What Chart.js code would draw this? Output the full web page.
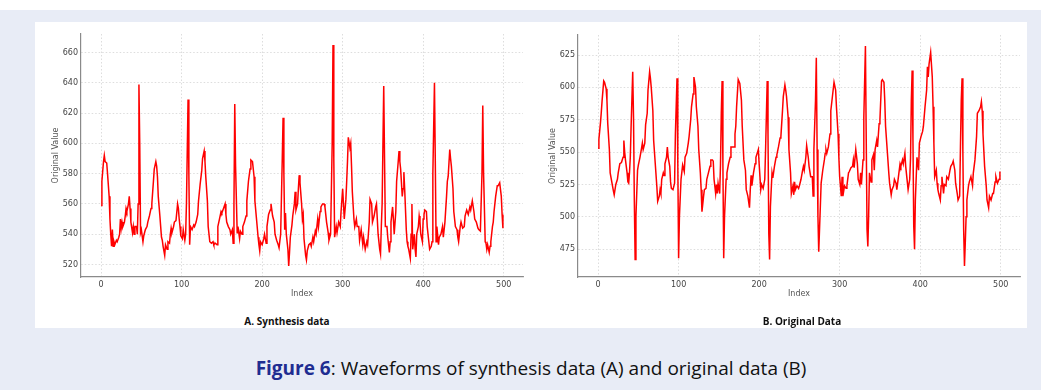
<!DOCTYPE html>
<html>
<head>
<meta charset="utf-8">
<script src="https://cdn.jsdelivr.net/npm/chart.js@4"></script>
<style>
  body { margin: 0; width: 1041px; height: 390px; background: #fff; position: relative; overflow: hidden; font-family: 'Open Sans', sans-serif; }
  #band { position: absolute; left: 0; top: 10px; width: 1041px; height: 380px; background: #e8ecf6; }
  #panel { position: absolute; left: 35px; top: 22px; width: 992px; height: 306px; background: #fff; }
  .box { position: absolute; top: 22px; width: 500px; height: 290px; }
  .sub { position: absolute; top: 314px; width: 300px; text-align: center; font-size: 10px; font-weight: 700; line-height: 14px; color: #111; }
  #caption { position: absolute; left: 35px; top: 356px; width: 992px; text-align: center; font-size: 19px; line-height: 24px; color: #111; }
  #caption b { color: #1f2d91; }
</style>
</head>
<body>
<div id="band"></div>
<div id="panel"></div>
<div class="box" style="left:35px"><canvas id="chartA"></canvas></div>
<div class="box" style="left:532px"><canvas id="chartB"></canvas></div>
<div class="sub" style="left:137px">A. Synthesis data</div>
<div class="sub" style="left:652px">B. Original Data</div>
<div id="caption"><b>Figure 6</b>: Waveforms of synthesis data (A) and original data (B)</div>

<script>
// tick labels
const xTicks = [0, 100, 200, 300, 400, 500];
const yTicksA = [520, 540, 560, 580, 600, 620, 640, 660];
const yTicksB = [475, 500, 525, 550, 575, 600, 625];

// A. synthesis data (index, value)
const idxA = [
  0,1,3,4,5,7,8,10,11,12,13,14,15,16,17,19,20,22,23,24,
  25,26,27,29,30,31,32,34,35,36,37,39,40,41,42,44,45,46,47,48,
  49,50,52,53,55,57,58,60,62,63,65,66,68,69,70,71,73,74,75,76,
  77,79,80,82,83,85,86,87,88,90,91,93,95,96,97,98,99,101,102,104,
  105,106,108,109,110,111,113,115,116,118,120,121,123,125,126,128,129,130,132,133,
  135,137,139,140,142,144,145,147,149,150,152,154,155,156,158,160,161,163,164,165,
  166,167,169,170,172,173,175,176,178,180,181,183,185,186,188,190,191,193,195,196,
  197,198,200,202,203,205,206,208,210,211,213,215,216,218,220,221,223,225,226,227,
  228,229,230,232,233,234,235,237,238,240,241,242,244,245,246,247,249,250,251,252,
  254,255,256,258,260,261,263,264,266,267,269,270,272,273,275,277,278,280,282,283,
  285,287,288,289,290,292,293,295,297,298,300,301,302,304,305,306,307,309,310,311,
  312,314,315,317,318,320,321,323,325,326,328,330,331,333,334,336,337,339,341,342,
  343,344,346,347,348,349,351,352,353,355,356,358,359,360,362,363,364,366,367,369,
  370,371,372,374,375,376,377,379,380,381,382,384,385,386,387,389,390,391,392,394,
  395,396,397,399,400,401,402,404,405,407,408,410,411,412,414,415,416,417,419,420,
  422,424,425,427,429,430,431,433,434,435,437,438,440,442,443,444,446,447,449,451,
  452,454,456,458,459,461,463,464,466,468,469,471,473,474,475,477,478,479,480,482,
  483,484,486,487,488,490,492,493,495,497,498,499
];
const valA = [
  559,575,588,592,588,587,580,565,550,540,532,543,532,535,533,536,535,538,540,550,
  544,548,545,548,552,557,555,560,565,557,548,541,545,540,545,545,540,560,639,600,
  541,543,535,539,543,545,548,552,557,560,575,583,588,585,578,565,552,545,538,536,
  532,526,533,530,535,534,540,544,541,545,548,549,560,557,550,545,539,537,543,536,
  540,560,629,580,533,545,543,546,545,548,553,562,573,582,590,595,588,578,562,545,
  535,534,535,533,534,533,545,550,555,554,557,560,553,548,545,543,540,543,534,560,
  626,585,541,545,537,542,540,545,548,552,562,575,583,589,588,578,562,550,538,533,
  529,535,533,537,540,534,545,553,556,560,552,548,540,536,533,531,540,590,617,580,
  543,554,540,530,519,528,538,546,552,560,568,556,560,570,579,574,560,550,553,537,
  526,523,529,533,534,532,538,535,542,540,550,545,555,558,560,560,558,548,541,536,
  540,600,665,590,538,545,541,548,545,555,570,560,550,563,575,588,604,597,600,585,
  568,550,545,550,545,545,536,543,533,538,530,535,533,548,563,560,548,552,558,560,
  550,540,530,527,545,560,638,590,545,545,538,528,535,548,558,550,540,555,575,588,
  595,588,583,565,570,581,570,543,535,532,530,524,540,560,530,540,530,525,540,545,
  552,548,540,535,550,553,556,555,545,535,530,532,535,580,640,590,535,545,533,538,
  540,545,538,548,565,575,578,596,590,585,570,555,545,543,538,535,545,548,544,545,
  552,556,553,558,556,562,555,550,548,544,543,542,580,625,580,535,534,530,533,528,
  532,535,545,548,555,565,572,572,574,565,553,544
];

// B. original data (index, value)
const idxB = [
  0,1,3,4,5,7,8,10,11,12,14,15,17,19,20,22,24,25,27,29,
  31,32,33,34,36,37,38,39,40,41,43,44,45,46,47,49,50,52,54,55,
  56,58,59,61,62,64,65,66,68,69,71,73,74,76,77,78,79,81,82,83,
  85,86,87,89,90,91,93,95,96,98,99,100,101,103,105,107,108,110,112,113,
  115,116,118,119,121,122,124,125,127,128,129,131,132,134,135,137,139,140,142,143,
  144,146,147,148,149,151,152,153,154,155,156,157,159,160,162,164,165,167,169,170,
  171,172,174,176,178,179,181,183,184,186,188,189,190,191,193,195,196,198,199,200,
  202,203,205,207,208,210,211,212,213,214,216,217,219,221,222,224,226,227,229,230,
  232,233,234,236,237,239,240,242,243,244,245,247,249,250,252,254,255,256,258,259,
  261,262,264,266,267,268,270,271,272,273,274,276,277,279,281,282,283,284,286,288,
  289,291,293,295,296,298,299,300,302,303,304,306,308,309,311,312,314,316,317,318,
  320,322,323,325,326,327,329,330,332,333,334,335,336,337,339,340,342,343,344,346,
  347,349,350,352,353,355,356,357,359,361,362,364,365,367,368,370,371,373,375,376,
  378,379,381,382,384,385,387,388,389,390,391,392,393,394,396,398,399,401,403,404,
  406,408,409,410,411,413,415,416,417,418,420,421,422,423,425,426,427,429,430,432,
  433,435,437,438,440,441,443,444,446,447,449,450,451,452,453,454,455,456,457,458,
  460,461,463,465,466,468,470,471,473,475,476,477,478,480,482,483,485,486,488,490,
  491,493,494,496,498,499
];
const valB = [
  553,560,573,581,590,605,604,599,590,572,552,534,527,520,517,525,529,534,541,542,
  546,559,550,544,534,527,526,534,546,570,612,577,513,467,500,536,540,546,553,557,
  552,557,571,580,598,612,607,600,582,559,541,523,512,516,521,518,529,534,532,541,
  546,554,546,539,527,522,521,526,564,607,540,468,500,529,540,535,546,549,557,562,
  575,585,595,608,600,585,570,552,534,521,504,516,521,522,529,534,539,544,544,543,
  529,518,525,518,526,518,540,580,605,540,468,500,529,534,541,546,554,554,554,564,
  570,585,606,603,590,570,544,536,521,516,507,521,532,524,534,541,546,550,552,541,
  521,525,522,529,552,605,564,487,467,508,534,530,539,546,548,554,561,562,582,593,
  602,598,593,577,552,534,518,524,517,527,521,524,522,524,529,536,539,536,546,555,
  546,539,531,531,516,552,590,623,552,501,473,508,526,536,544,549,552,549,554,564,
  582,593,604,598,585,564,546,531,516,531,516,524,522,524,534,535,538,539,544,538,
  552,541,529,525,534,525,544,577,632,560,490,477,501,534,527,544,548,536,552,559,
  554,572,575,605,606,604,590,570,552,534,526,517,521,524,529,526,521,531,541,539,
  544,541,549,539,527,521,529,545,590,613,560,493,475,513,546,536,557,562,566,570,
  585,598,616,608,618,627,608,585,557,531,536,526,521,518,513,524,531,518,525,524,
  531,529,536,539,541,543,536,526,518,513,516,554,590,607,550,490,462,480,500,513,
  524,527,531,524,534,544,562,580,582,585,589,582,564,539,524,513,507,516,513,518,
  518,527,531,526,529,535
];

// axis limits (data range plus 5% margin)
const xRange = [-24.95, 523.95];
const yRangeA = [511.7, 672.3];
const yRangeB = [453.5, 640.5];

Chart.defaults.font.family = 'DejaVu Sans';
Chart.defaults.font.size = 8;
Chart.defaults.color = '#444';

function makeChart(id, idx, vals, yRange, yTicks, padTop) {
    const points = idx.map((x, i) => ({ x: x, y: vals[i] }));
    const axisBorder = { display: true, color: '#8a8a8a', width: 1.2, dash: [1.5, 2] };
    return new Chart(document.getElementById(id), {
        type: 'line',
        data: {
            datasets: [{
                data: points,
                borderColor: '#ff0000',
                borderWidth: 1.5,
                pointRadius: 0,
                tension: 0,
                fill: false
            }]
        },
        options: {
            responsive: true,
            maintainAspectRatio: false,
            animation: false,
            events: [],
            layout: { padding: { left: 0, right: 12, top: padTop, bottom: 0 } },
            plugins: { legend: { display: false }, tooltip: { enabled: false } },
            scales: {
                x: {
                    type: 'linear',
                    min: xRange[0],
                    max: xRange[1],
                    afterBuildTicks: s => { s.ticks = xTicks.map(v => ({ value: v })); },
                    afterFit: s => { s.height = 35; },
                    ticks: { padding: 3, color: '#444' },
                    grid: { color: '#d4d4d4', lineWidth: 0.8, drawTicks: false },
                    border: axisBorder,
                    title: { display: true, text: 'Index', color: '#555', padding: { top: 0, bottom: 13 } }
                },
                y: {
                    min: yRange[0],
                    max: yRange[1],
                    afterBuildTicks: s => { s.ticks = yTicks.map(v => ({ value: v })); },
                    afterFit: s => { s.width = 46; },
                    ticks: { padding: 3, color: '#444' },
                    grid: { color: '#d4d4d4', lineWidth: 0.8, drawTicks: false },
                    border: axisBorder,
                    title: { display: true, text: 'Original Value', color: '#555', padding: { top: 16, bottom: 0 } }
                }
            }
        }
    });
}

makeChart('chartA', idxA, valA, yRangeA, yTicksA, 12);
makeChart('chartB', idxB, valB, yRangeB, yTicksB, 13);
</script>
</body>
</html>
